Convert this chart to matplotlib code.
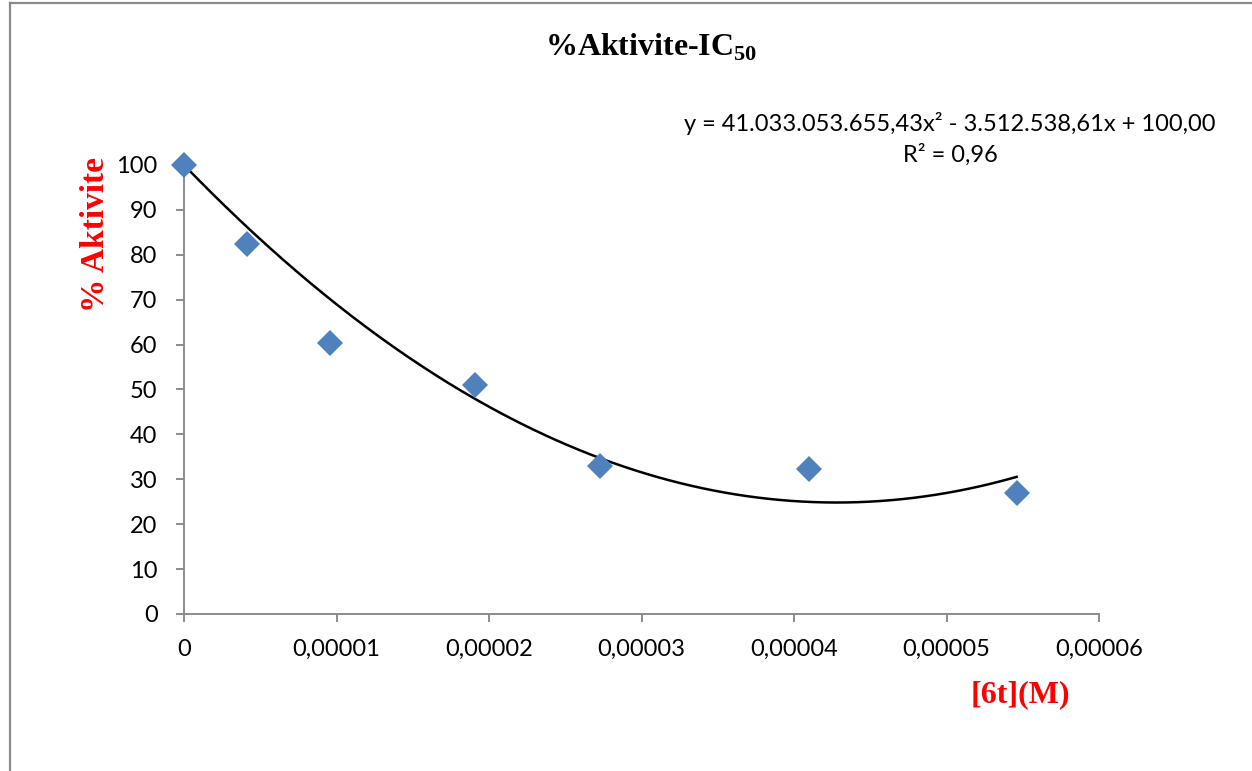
import numpy as np
import matplotlib
matplotlib.use("Agg")
import matplotlib.pyplot as plt
from matplotlib.lines import Line2D

# Measured inhibition data
concentration_M = [0.0, 4.1e-6, 9.55e-6, 1.91e-5, 2.73e-5, 4.1e-5, 5.46e-5]
activity_pct = [100.0, 82.5, 60.4, 51.0, 33.0, 32.3, 26.9]

# Second-order polynomial trendline coefficients (a*x^2 + b*x + c)
coef_a = 41033053655.43
coef_b = -3512538.61
coef_c = 100.00
r_squared = 0.96

x_ticks = [0, 1e-5, 2e-5, 3e-5, 4e-5, 5e-5, 6e-5]
x_tick_labels = ["0", "0,00001", "0,00002", "0,00003", "0,00004", "0,00005", "0,00006"]
y_ticks = list(range(0, 101, 10))

plt.rcParams["mathtext.fontset"] = "custom"
plt.rcParams["mathtext.rm"] = "Liberation Serif:bold"
plt.rcParams["mathtext.bf"] = "Liberation Serif:bold"

W, H = 1252, 771
fig = plt.figure(figsize=(W / 100, H / 100), dpi=100)
fig.patch.set_facecolor("white")

# Plot area
x0, x1 = 184, 1099
y_top, y_bot = 165, 614
ax = fig.add_axes([x0 / W, 1 - y_bot / H, (x1 - x0) / W, (y_bot - y_top) / H])
ax.set_xlim(0, 6e-5)
ax.set_ylim(0, 100)

axis_gray = "#8c8c8c"
for side in ("top", "right"):
    ax.spines[side].set_visible(False)
for side in ("left", "bottom"):
    ax.spines[side].set_color(axis_gray)
    ax.spines[side].set_linewidth(1.4)

ax.set_xticks(x_ticks)
ax.set_xticklabels(x_tick_labels)
ax.set_yticks(y_ticks)
ax.tick_params(axis="both", direction="out", length=6, width=1.4, color=axis_gray,
               labelsize=17, labelcolor="black")
ax.tick_params(axis="x", pad=12)
ax.tick_params(axis="y", pad=13)
for lbl in ax.get_xticklabels() + ax.get_yticklabels():
    lbl.set_fontfamily("Lato")

# Trendline across the measured range
xs = np.linspace(min(concentration_M), max(concentration_M), 300)
ys = coef_a * xs ** 2 + coef_b * xs + coef_c
ax.plot(xs, ys, color="black", lw=1.8, zorder=2, clip_on=False)

# Data markers
ax.plot(concentration_M, activity_pct, linestyle="none", marker="D", markersize=13,
        color="#4f81bd", markeredgewidth=0, zorder=3, clip_on=False)

# Title
fig.text(651 / W, 1 - 47 / H, r"%Aktivite-IC$_{\mathrm{50}}$", ha="center", va="center",
         fontsize=23, family="Liberation Serif", fontweight="bold", color="black")

# Axis titles
fig.text(95 / W, 1 - 234 / H, "% Aktivite", rotation=90, ha="center", va="center",
         fontsize=24, family="Liberation Serif", fontweight="bold", color="red")
fig.text(1070 / W, 1 - 695 / H, "[6t](M)", ha="right", va="center",
         fontsize=23, family="Liberation Serif", fontweight="bold", color="red")

# Trendline equation
eq = "y = 41.033.053.655,43x² - 3.512.538,61x + 100,00\nR² = 0,96"
fig.text(950 / W, 1 - 139 / H, eq, ha="center", va="center", fontsize=17,
         family="Lato", color="black", linespacing=1.5)

# Outer frame lines
fig.add_artist(Line2D([10 / W, 10 / W], [0, 1 - 3 / H], transform=fig.transFigure,
                      color="#8a8a8a", lw=1.6))
fig.add_artist(Line2D([10 / W, 1], [1 - 3 / H, 1 - 3 / H], transform=fig.transFigure,
                      color="#8a8a8a", lw=1.6))

fig.savefig("out.png", dpi=100, facecolor="white")
